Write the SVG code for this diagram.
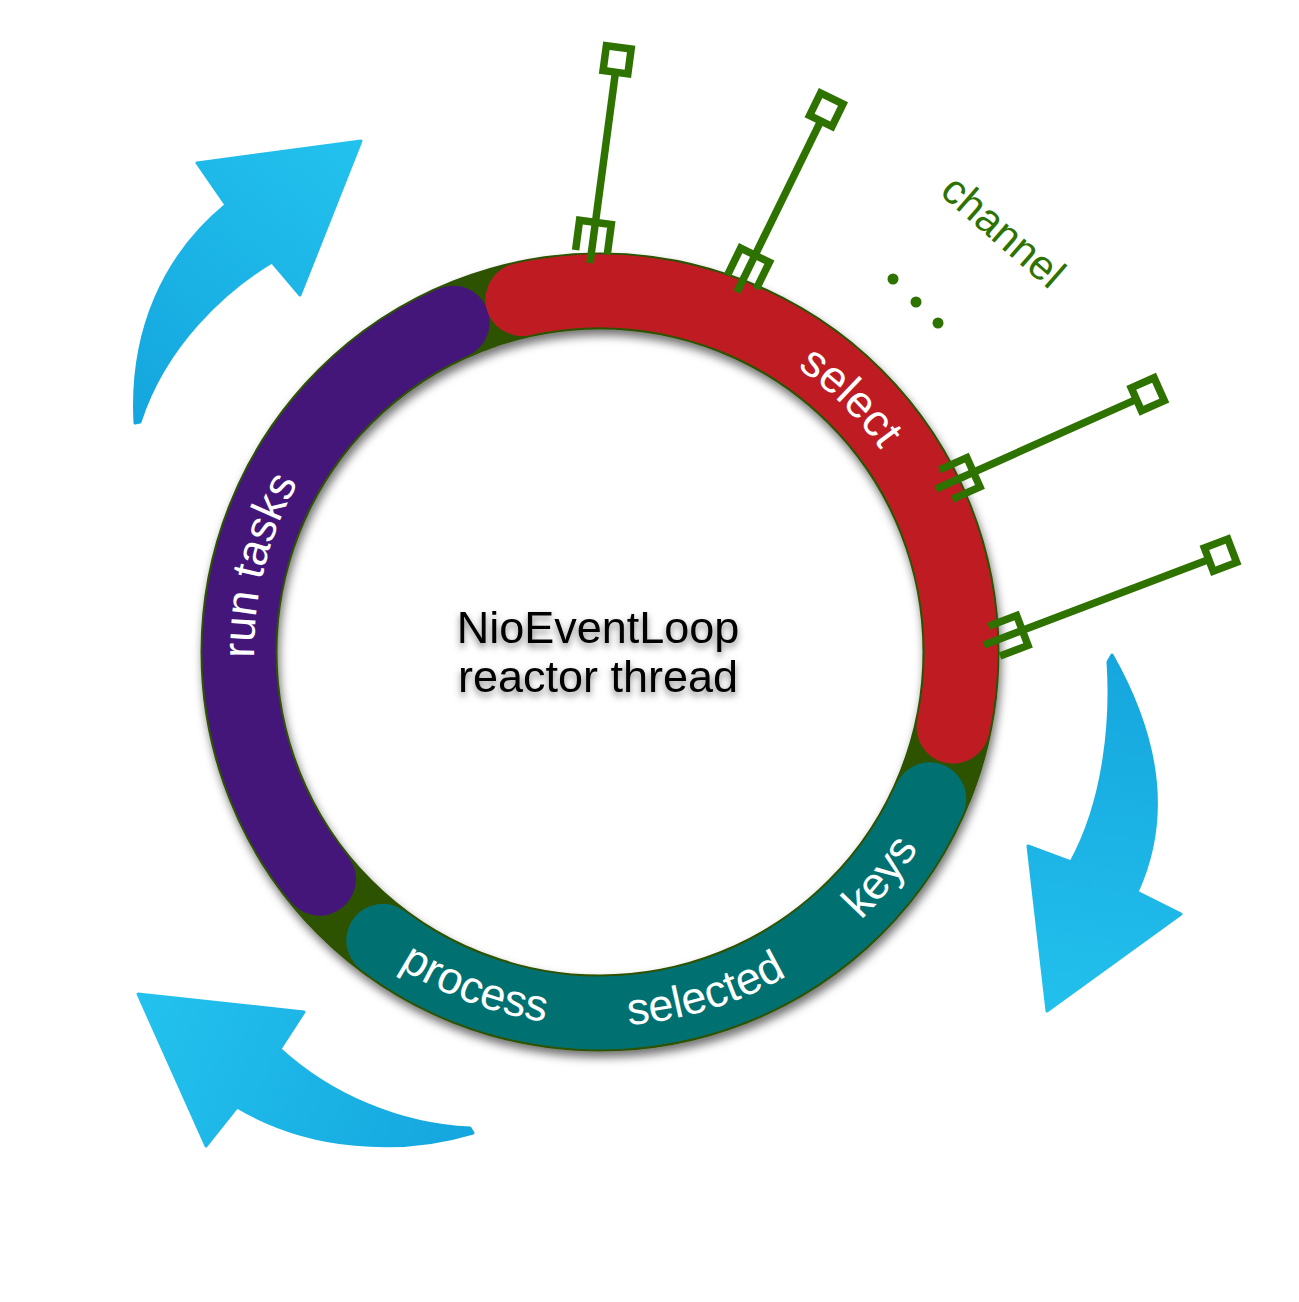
<svg xmlns="http://www.w3.org/2000/svg" width="1299" height="1302" viewBox="0 0 1299 1302">
<style>
.lbl{font-family:"Liberation Sans",Arial,sans-serif;font-size:45px;fill:#ffffff}
.ctr{font-family:"Liberation Sans",Arial,sans-serif;font-size:45px;fill:#000000;text-anchor:middle}
.seg{fill:none;stroke-width:73;stroke-linecap:round}
.pin{fill:none;stroke:#2e7200;stroke-width:7.5}
</style>
<defs>
<filter id="ringShadow" x="-10%" y="-10%" width="120%" height="120%">
<feDropShadow dx="2" dy="6" stdDeviation="5" flood-color="#000" flood-opacity="0.55"/>
</filter>
<filter id="textShadow" x="-10%" y="-30%" width="120%" height="160%">
<feDropShadow dx="0" dy="4" stdDeviation="3.5" flood-color="#000" flood-opacity="0.5"/>
</filter>
<linearGradient id="g1" gradientUnits="userSpaceOnUse" x1="360" y1="140" x2="135" y2="423">
<stop offset="0" stop-color="#23c2ee"/><stop offset="1" stop-color="#14a6de"/>
</linearGradient>
<linearGradient id="g2" gradientUnits="userSpaceOnUse" x1="1110" y1="655" x2="1060" y2="1010">
<stop offset="0" stop-color="#15a6de"/><stop offset="1" stop-color="#22c0ec"/>
</linearGradient>
<linearGradient id="g3" gradientUnits="userSpaceOnUse" x1="140" y1="995" x2="473" y2="1135">
<stop offset="0" stop-color="#23c2ee"/><stop offset="1" stop-color="#14a6de"/>
</linearGradient>
<path id="pRun" d="M288.5,802.6 A346,346 0 0 1 397.6,371.4"/>
<path id="pSelect" d="M627.2,307.1 A346,346 0 0 1 944.4,618.8"/>
<path id="pProcess" d="M274.5,836.2 A374,374 0 0 0 724.8,1004.5"/>
<path id="pSelected" d="M455.1,996.8 A374,374 0 0 0 914.4,854.6"/>
<path id="pKeys" d="M673.3,1018.7 A374,374 0 0 0 973.9,643.5"/>
</defs>

<g id="arrows">
<path id="arrow-top-left" fill="url(#g1)" stroke="url(#g1)" stroke-width="3" stroke-linejoin="round" d="M135,423 C130,330 165,255 226,205 L197,163 L361,141 L300,295 L272,262 C225,290 165,345 140,422 Z"/>
<path id="arrow-right" fill="url(#g2)" stroke="url(#g2)" stroke-width="3" stroke-linejoin="round" d="M1112,655 C1160,740 1170,820 1137,892 L1181,914 L1047,1011 L1028,846 L1071,862 C1105,800 1112,720 1108,662 Z"/>
<path id="arrow-bottom-left" fill="url(#g3)" stroke="url(#g3)" stroke-width="3" stroke-linejoin="round" d="M473,1133 C400,1155 310,1150 237,1107 L206,1146 L138,994 L304,1012 L280,1049 C330,1095 400,1125 470,1128 Z"/>
</g>

<g id="ring" filter="url(#ringShadow)">
<circle cx="600" cy="652" r="361" fill="none" stroke="#2e5204" stroke-width="77"/>
<path id="seg-run" class="seg" stroke="#45187a" d="M319.5,879.2 A361,361 0 0 1 453.2,322.2"/>
<path id="seg-process" class="seg" stroke="#06706f" d="M929.8,798.8 A361,361 0 0 1 382.8,940.3"/>
<path id="seg-select" class="seg" stroke="#be1e24" d="M521.9,299.5 A361,361 0 0 1 953.1,727.1"/>
</g>

<g id="ring-labels">
<text class="lbl"><textPath href="#pRun" startOffset="50%" text-anchor="middle">run tasks</textPath></text>
<text class="lbl"><textPath href="#pSelect" startOffset="50%" text-anchor="middle">select</textPath></text>
<text class="lbl"><textPath href="#pProcess" startOffset="50%" text-anchor="middle">process</textPath></text>
<text class="lbl"><textPath href="#pSelected" startOffset="50%" text-anchor="middle">selected</textPath></text>
<text class="lbl"><textPath href="#pKeys" startOffset="50%" text-anchor="middle">keys</textPath></text>
</g>

<g id="center-label" filter="url(#textShadow)">
<text class="ctr" x="598" y="643">NioEventLoop</text>
<text class="ctr" x="598" y="692">reactor thread</text>
</g>

<g id="channels">
<g id="channel-1" class="pin" transform="translate(590,263) rotate(-82.4)">
<line x1="0" y1="0" x2="192.5" y2="0"/>
<polyline points="11,-16 41,-16 41,16 11,16"/>
<rect x="192.5" y="-12.5" width="25" height="25"/>
</g>
<g id="channel-2" class="pin" transform="translate(737,292) rotate(-63.9)">
<line x1="0" y1="0" x2="190.5" y2="0"/>
<polyline points="11,-16 41,-16 41,16 11,16"/>
<rect x="190.5" y="-12.5" width="25" height="25"/>
</g>
<g id="channel-3" class="pin" transform="translate(936,489) rotate(-24.1)">
<line x1="0" y1="0" x2="219.5" y2="0"/>
<polyline points="11,-16 41,-16 41,16 11,16"/>
<rect x="219.5" y="-12.5" width="25" height="25"/>
</g>
<g id="channel-4" class="pin" transform="translate(984,645) rotate(-20.8)">
<line x1="0" y1="0" x2="240.5" y2="0"/>
<polyline points="11,-16 41,-16 41,16 11,16"/>
<rect x="240.5" y="-12.5" width="25" height="25"/>
</g>
<g id="dots" fill="#2e7200">
<circle cx="893" cy="279" r="5.5"/>
<circle cx="916" cy="302" r="5.5"/>
<circle cx="938" cy="323" r="5.5"/>
</g>
<text id="channel-label" transform="translate(994,242) rotate(41)" text-anchor="middle" font-family="Liberation Sans, Arial, sans-serif" font-size="42" fill="#2e7200">channel</text>
</g>
</svg>
